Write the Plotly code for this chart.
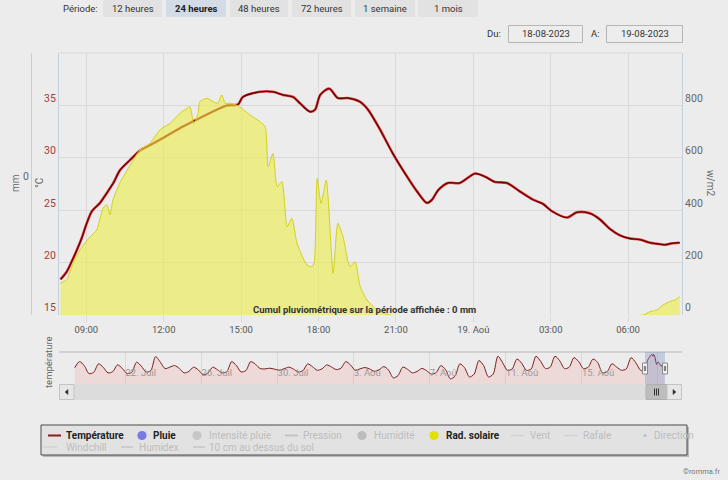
import plotly.graph_objects as go
import pandas as pd

W, H = 728, 480
FONT = "Roboto, Liberation Sans, sans-serif"
BG = "#ececec"
GRID = "#d9d9d9"
AXL = "#c6d0dc"


def X(p):
    return p / W


def Y(p):
    return 1 - p / H


# ---------------- data ----------------
temp_times = [
    "2023-08-18 08:00", "2023-08-18 08:14", "2023-08-18 08:26", "2023-08-18 08:38",
    "2023-08-18 08:49", "2023-08-18 09:01", "2023-08-18 09:13", "2023-08-18 09:32",
    "2023-08-18 09:47", "2023-08-18 10:03", "2023-08-18 10:18", "2023-08-18 10:42",
    "2023-08-18 11:05", "2023-08-18 11:28", "2023-08-18 12:03", "2023-08-18 12:45",
    "2023-08-18 13:24", "2023-08-18 14:04", "2023-08-18 14:27", "2023-08-18 14:53",
    "2023-08-18 15:04", "2023-08-18 15:44", "2023-08-18 16:14", "2023-08-18 16:37",
    "2023-08-18 17:01", "2023-08-18 17:17", "2023-08-18 17:40", "2023-08-18 17:52",
    "2023-08-18 18:04", "2023-08-18 18:25", "2023-08-18 18:45", "2023-08-18 19:09",
    "2023-08-18 19:36", "2023-08-18 19:55", "2023-08-18 20:23", "2023-08-18 20:53",
    "2023-08-18 21:26", "2023-08-18 21:49", "2023-08-18 22:12", "2023-08-18 22:24",
    "2023-08-18 22:38", "2023-08-18 23:01", "2023-08-18 23:29", "2023-08-19 00:04",
    "2023-08-19 00:27", "2023-08-19 00:50", "2023-08-19 01:18", "2023-08-19 01:48",
    "2023-08-19 02:19", "2023-08-19 02:42", "2023-08-19 03:03", "2023-08-19 03:38",
    "2023-08-19 04:01", "2023-08-19 04:31", "2023-08-19 04:55", "2023-08-19 05:18",
    "2023-08-19 05:41", "2023-08-19 06:04", "2023-08-19 06:27", "2023-08-19 06:51",
    "2023-08-19 07:07", "2023-08-19 07:26", "2023-08-19 07:37", "2023-08-19 08:00",
]
temp_values = [
    18.4, 19.1, 20.1, 21.2, 22.3, 23.75, 24.9, 25.7,
    26.6, 27.6, 28.8, 29.8, 30.7, 31.2, 32.0, 33.0,
    33.8, 34.6, 35.0, 35.1, 35.8, 36.3, 36.3, 36.0,
    35.8, 35.2, 34.4, 34.6, 36.0, 36.6, 35.7, 35.7,
    35.35, 34.6, 32.7, 30.4, 28.2, 26.8, 25.7, 26.0,
    26.9, 27.6, 27.6, 28.5, 28.2, 27.7, 27.6, 26.8,
    26.0, 25.6, 24.9, 24.3, 24.8, 24.7, 24.1, 23.2,
    22.6, 22.3, 22.2, 21.9, 21.8, 21.7, 21.8, 21.9,
]

rad_times = [
    "2023-08-18 08:00", "2023-08-18 08:14", "2023-08-18 08:29", "2023-08-18 08:45",
    "2023-08-18 09:09", "2023-08-18 09:24", "2023-08-18 09:39", "2023-08-18 09:48",
    "2023-08-18 09:55", "2023-08-18 10:02", "2023-08-18 10:18", "2023-08-18 10:42",
    "2023-08-18 11:05", "2023-08-18 11:28", "2023-08-18 11:51", "2023-08-18 12:15",
    "2023-08-18 12:38", "2023-08-18 12:54", "2023-08-18 13:01", "2023-08-18 13:10",
    "2023-08-18 13:20", "2023-08-18 13:24", "2023-08-18 13:41", "2023-08-18 13:55",
    "2023-08-18 14:06", "2023-08-18 14:15", "2023-08-18 14:23", "2023-08-18 14:34",
    "2023-08-18 14:50", "2023-08-18 15:04", "2023-08-18 15:21", "2023-08-18 15:44",
    "2023-08-18 15:56", "2023-08-18 16:03", "2023-08-18 16:14", "2023-08-18 16:24",
    "2023-08-18 16:35", "2023-08-18 16:47", "2023-08-18 16:58", "2023-08-18 17:10",
    "2023-08-18 17:33", "2023-08-18 17:45", "2023-08-18 17:50", "2023-08-18 17:57",
    "2023-08-18 18:06", "2023-08-18 18:18", "2023-08-18 18:34", "2023-08-18 18:45",
    "2023-08-18 18:57", "2023-08-18 19:13", "2023-08-18 19:25", "2023-08-18 19:37",
    "2023-08-18 19:53", "2023-08-18 20:16", "2023-08-18 20:46", "2023-08-19 06:35",
    "2023-08-19 06:51", "2023-08-19 07:07", "2023-08-19 07:21", "2023-08-19 07:37",
    "2023-08-19 07:49", "2023-08-19 08:00",
]
rad_values = [
    122, 134, 198, 248,
    299, 324, 408, 420,
    382, 439, 504, 572,
    630, 655, 706, 732,
    770, 789, 795, 732,
    770, 814, 827, 814,
    808, 840, 808, 808,
    801, 785, 763, 738,
    719, 566, 617, 490,
    509, 337, 369, 274,
    191, 184, 200, 522,
    426, 515, 159, 350,
    299, 184, 203, 108,
    57, 19, 0, 0,
    13, 19, 38, 51,
    57, 70,
]

# navigator: one month of temperature, every 6 h (08h, 14h, 20h, 02h) from 19 Jul 08:00
nav_start = "2023-07-19 08:00"
nav_values = [
    22.3, 28.8, 24.5, 16.0,   # 19 Jul
    17.5, 26.4, 22.7, 16.8,   # 20 Jul
    18.2, 25.3, 21.6, 16.1,   # 21 Jul
    17.5, 28.1, 24.0, 17.8,   # 22 Jul
    19.3, 34.1, 28.2, 21.4,   # 23 Jul
    22.9, 24.6, 21.5, 16.8,   # 24 Jul
    18.3, 22.9, 19.9, 15.0,   # 25 Jul
    16.5, 22.9, 20.2, 16.8,   # 26 Jul
    18.3, 28.8, 24.5, 17.8,   # 27 Jul
    19.3, 28.8, 26.0, 21.4,   # 28 Jul
    21.0, 21.8, 20.8, 19.6,   # 29 Jul
    21.1, 22.9, 20.9, 17.8,   # 30 Jul
    19.3, 26.4, 23.4, 19.6,   # 31 Jul
    21.1, 25.3, 23.1, 20.3,   # 1 Aug
    21.8, 28.8, 25.2, 19.6,   # 2 Aug
    21.1, 22.5, 21.0, 18.5,   # 3 Aug
    20.0, 23.5, 19.8, 11.5,   # 4 Aug
    14.0, 22.9, 20.6, 16.8,   # 5 Aug
    18.3, 21.5, 19.2, 15.5,   # 6 Aug
    17.0, 24.5, 20.3, 10.5,   # 7 Aug
    13.5, 26.4, 22.2, 12.5,   # 8 Aug
    15.5, 29.9, 24.5, 12.5,   # 9 Aug
    15.5, 34.5, 27.5, 19.5,   # 10 Aug
    21.0, 31.5, 27.1, 19.5,   # 11 Aug
    21.0, 34.5, 29.0, 21.4,   # 12 Aug
    22.9, 34.5, 29.7, 21.4,   # 13 Aug
    22.9, 33.0, 28.7, 21.4,   # 14 Aug
    22.9, 31.5, 27.7, 16.8,   # 15 Aug
    18.3, 26.5, 22.9, 19.6,   # 16 Aug
    21.1, 33.0, 27.6, 19.6,   # 17 Aug
]

main_ticks = ["2023-08-18 09:00", "2023-08-18 12:00", "2023-08-18 15:00", "2023-08-18 18:00",
              "2023-08-18 21:00", "2023-08-19 00:00", "2023-08-19 03:00", "2023-08-19 06:00"]
main_tick_text = ["09:00", "12:00", "15:00", "18:00", "21:00", "19. Aoû", "03:00", "06:00"]
nav_ticks = ["2023-07-22", "2023-07-26", "2023-07-30", "2023-08-03",
             "2023-08-07", "2023-08-11", "2023-08-15", "2023-08-19"]
nav_tick_text = ["22. Juil", "26. Juil", "30. Juil", "3. Aoû", "7. Aoû", "11. Aoû", "15. Aoû", "19. Aoû"]

periods = ["12 heures", "24 heures", "48 heures", "72 heures", "1 semaine", "1 mois"]
selected_period = "24 heures"
date_from, date_to = "18-08-2023", "19-08-2023"

# ---------------- build ----------------
temp_t = pd.to_datetime(temp_times)
rad_t = pd.to_datetime(rad_times)
nav_t = list(pd.date_range(nav_start, periods=len(nav_values), freq="6h")) + list(temp_t)
nav_y = nav_values + temp_values

fig = go.Figure()
fig.add_trace(go.Scatter(
    x=rad_t, y=rad_values, xaxis="x", yaxis="y2", mode="lines",
    line=dict(color="#d2d21a", width=1, shape="spline", smoothing=0.6),
    fill="tozeroy", fillcolor="rgba(236,236,70,0.6)", hoverinfo="skip"))
fig.add_trace(go.Scatter(
    x=[temp_t[0], temp_t[-1]], y=[0, 0], xaxis="x", yaxis="y4", mode="lines",
    line=dict(color="rgba(0,0,0,0)", width=0), hoverinfo="skip"))
fig.add_trace(go.Scatter(
    x=temp_t, y=temp_values, xaxis="x", yaxis="y", mode="lines",
    line=dict(color="#e04040", width=2.6, shape="spline", smoothing=0.8), hoverinfo="skip"))
fig.add_trace(go.Scatter(
    x=temp_t, y=temp_values, xaxis="x", yaxis="y", mode="lines",
    line=dict(color="#650000", width=1.3, shape="spline", smoothing=0.8)))
fig.add_trace(go.Scatter(
    x=nav_t, y=nav_y, xaxis="x2", yaxis="y3", mode="lines",
    line=dict(color="#7a1c1c", width=1, shape="spline", smoothing=0.8),
    fill="tozeroy", fillcolor="rgba(245,170,170,0.28)", hoverinfo="skip"))

fig.update_layout(
    width=W, height=H, margin=dict(l=0, r=0, t=0, b=0),
    paper_bgcolor=BG, plot_bgcolor=BG, showlegend=False,
    font=dict(family=FONT, size=10, color="#555"),
    xaxis=dict(domain=[X(59), X(682)], anchor="y",
               range=["2023-08-18 07:56:30", "2023-08-19 08:05:20"],
               tickvals=main_ticks, ticktext=main_tick_text,
               showgrid=True, gridcolor=GRID, gridwidth=1, zeroline=False, showline=False,
               ticks="outside", ticklen=6, tickcolor=GRID,
               tickfont=dict(size=9.5, color="#555")),
    yaxis=dict(domain=[Y(315), Y(53)], anchor="x", range=[15, 40],
               tickvals=[15, 20, 25, 30, 35], showgrid=True, gridcolor=GRID,
               zeroline=False, showline=True, linecolor=AXL, ticks="",
               ticklabelposition="outside top",
               tickfont=dict(size=10.5, color="#a23b3b")),
    yaxis2=dict(overlaying="y", side="right", anchor="x", range=[0, 1000],
                tickvals=[0, 200, 400, 600, 800], showgrid=False, zeroline=False,
                showline=True, linecolor=AXL, ticks="",
                ticklabelposition="outside top",
                tickfont=dict(size=10.5, color="#666")),
    yaxis4=dict(overlaying="y", anchor="free", position=X(31), side="left",
                range=[-1, 1], tickvals=[0], ticktext=["0"], showgrid=False,
                zeroline=False, showline=True, linecolor=AXL, ticks="",
                ticklabelposition="outside top",
                tickfont=dict(size=10.5, color="#666")),
    xaxis2=dict(domain=[X(59), X(682)], anchor="y3",
                range=["2023-07-18 12:07", "2023-08-20 06:19"],
                tickvals=nav_ticks, ticktext=nav_tick_text,
                showgrid=True, gridcolor=GRID, zeroline=False, showline=False,
                ticks="", ticklabelposition="inside right",
                tickfont=dict(size=9.5, color="#999")),
    yaxis3=dict(domain=[Y(384), Y(352)], anchor="x2", range=[5, 39],
                visible=False, showgrid=False),
)

shapes = []
ann = []


def rect(x0, y0, x1, y1, fill, line="rgba(0,0,0,0)", lw=1, layer="above"):
    shapes.append(dict(type="rect", xref="paper", yref="paper",
                       x0=X(x0), x1=X(x1), y0=Y(y1), y1=Y(y0),
                       fillcolor=fill, line=dict(color=line, width=lw), layer=layer))


def hline(x0, x1, y, color, w=1):
    shapes.append(dict(type="line", xref="paper", yref="paper",
                       x0=X(x0), x1=X(x1), y0=Y(y), y1=Y(y),
                       line=dict(color=color, width=w)))


def vline(x, y0, y1, color, w=1):
    shapes.append(dict(type="line", xref="paper", yref="paper",
                       x0=X(x), x1=X(x), y0=Y(y0), y1=Y(y1),
                       line=dict(color=color, width=w)))


def tri(pts, color):
    p = "M " + " L ".join(f"{X(a):.5f},{Y(b):.5f}" for a, b in pts) + " Z"
    shapes.append(dict(type="path", xref="paper", yref="paper", path=p,
                       fillcolor=color, line=dict(color=color, width=0.5)))


def circ(cx, cy, r, color):
    shapes.append(dict(type="circle", xref="paper", yref="paper",
                       x0=X(cx - r), x1=X(cx + r), y0=Y(cy + r), y1=Y(cy - r),
                       fillcolor=color, line=dict(color=color, width=0)))


def text(x, y, s, size=10, color="#333", bold=False, anchor="left", angle=0):
    ann.append(dict(x=X(x), y=Y(y), xref="paper", yref="paper", text=f"<b>{s}</b>" if bold else s,
                    showarrow=False, xanchor=anchor, yanchor="middle", textangle=angle,
                    borderpad=0, font=dict(family=FONT, size=size, color=color)))


# top line of the plot area
hline(59, 682, 53, GRID)

# period buttons
text(99, 8, "Période:", 9.5, "#333", anchor="right")
btn_x = [(103, 162), (166, 226), (230, 288), (292, 351), (355, 415), (418, 478)]
for (a, b), lab in zip(btn_x, periods):
    sel = lab == selected_period
    rect(a, 0, b, 17, "#d3dbe6" if sel else "#e2e2e2")
    text((a + b) / 2, 8, lab, 9.5, "#222" if sel else "#333", bold=sel, anchor="center")

# date range inputs
text(502, 34, "Du:", 9.5, "#333", anchor="right")
rect(508.5, 25.5, 582.5, 42.5, "#ededed", "#b5b5b5")
text(545.5, 34, date_from, 9.5, "#333", anchor="center")
text(601, 34, "A:", 9.5, "#333", anchor="right")
rect(606.5, 25.5, 682.5, 42.5, "#ededed", "#b5b5b5")
text(644.5, 34, date_to, 9.5, "#333", anchor="center")

# axis titles
text(15, 183, "mm", 10, "#666", anchor="center", angle=-90)
text(39, 183, "°C", 10, "#666", anchor="center", angle=-90)
text(711, 183, "w/m2", 10, "#666", anchor="center", angle=90)
text(48, 362, "température", 9.5, "#666", anchor="center", angle=-90)

# rainfall cumul
text(364, 309, "Cumul pluviométrique sur la période affichée : 0 mm", 9.5, "#333", bold=True, anchor="center")

# navigator decorations
hline(59, 682, 352, "#b5b5b5")
rect(645, 352, 665, 384, "rgba(102,133,194,0.3)")
for hx in (645, 665):
    rect(hx - 2.5, 363, hx + 2.5, 374, "#f2f2f2", "#8a8a8a")
    vline(hx - 0.6, 366, 371, "#555", 0.8)
    vline(hx + 0.6, 366, 371, "#555", 0.8)

# scrollbar
rect(59, 384, 682, 400, "#dcdcdc")
rect(59.5, 384.5, 74, 399.5, "#e6e6e6", "#c4c4c4")
tri([(68, 389.5), (68, 394.5), (65, 392)], "#333")
rect(646, 384.5, 667, 399.5, "#bdbdbd", "#b0b0b0")
for lx in (654.5, 656.5, 658.5):
    vline(lx, 388.5, 395.5, "#333", 1)
rect(667, 384.5, 681.5, 399.5, "#e6e6e6", "#c4c4c4")
tri([(673, 389.5), (673, 394.5), (676, 392)], "#333")

# legend box
rect(43, 427, 689, 457, "rgba(0,0,0,0.22)")
rect(41, 425, 687, 455, "#e2e2e2", "#4a4a4a")
R1, R2 = 435.5, 447
LS = 10
ON, OFF = "#222", "#bdbdbd"
hline(48, 61, R1, "#8b1a1a", 2)
text(65, R1, "Température", LS, ON, bold=True)
circ(142, R1, 4.6, "#7a7ae6")
text(152, R1, "Pluie", LS, ON, bold=True)
circ(197, R1, 4.6, "#c6c6c6")
text(208, R1, "Intensité pluie", LS, OFF)
hline(285, 298, R1, "#c4c4c4", 2)
text(302, R1, "Pression", LS, OFF)
circ(362, R1, 4.6, "#bcbcbc")
text(373, R1, "Humidité", LS, OFF)
circ(434, R1, 4.6, "#e2e200")
text(445, R1, "Rad. solaire", LS, ON, bold=True)
hline(511, 524, R1, "#d2d2d2", 1.5)
text(529, R1, "Vent", LS, OFF)
hline(564, 578, R1, "#d2d2d2", 1.5)
text(582, R1, "Rafale", LS, OFF)
circ(645, R1, 1.6, "#bdbdbd")
text(653, R1, "Direction", LS, OFF)
hline(43, 57, R2, "#d2d2d2", 1.5)
text(65, R2, "Windchill", LS, OFF)
hline(121, 133, R2, "#c4c4c4", 1.5)
text(138, R2, "Humidex", LS, OFF)
hline(193, 205, R2, "#c4c4c4", 1.5)
text(208, R2, "10 cm au dessus du sol", LS, OFF)

# credits
text(721, 471, "©romma.fr", 7.5, "#777", anchor="right")

fig.update_layout(shapes=shapes, annotations=ann)
fig.write_html("out.html")
